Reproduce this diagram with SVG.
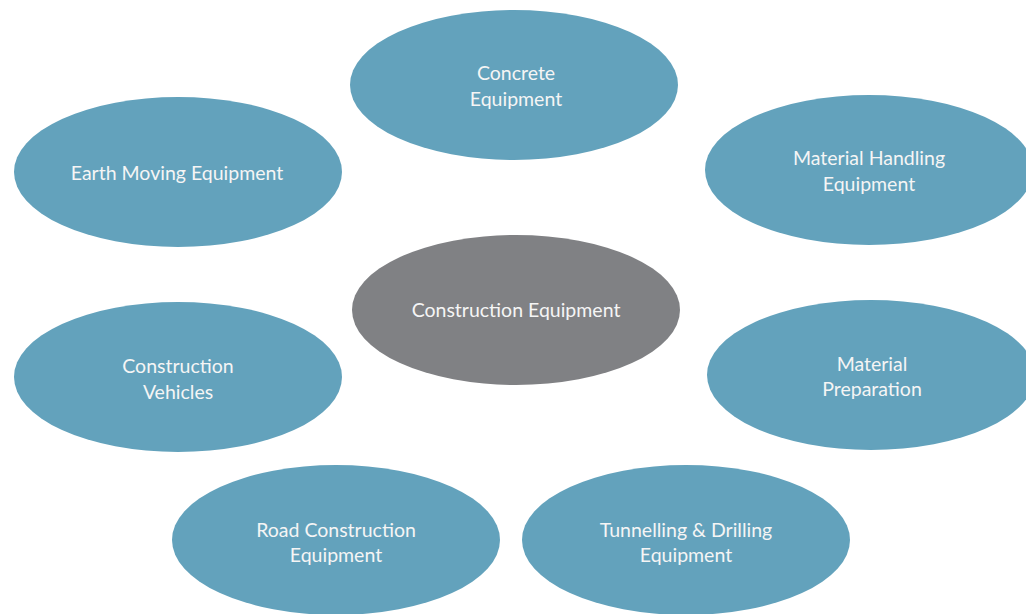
<svg xmlns="http://www.w3.org/2000/svg" width="1026" height="614" viewBox="0 0 1026 614">
<style>
.n{fill:#63a2bc}
.c{fill:#808184}
text{font-family:Lato,"Open Sans","Liberation Sans",sans-serif;font-size:19.5px;fill:#f5f5f5;text-anchor:middle}
</style>
<rect width="1026" height="614" fill="#ffffff"/>
<g id="connectors"></g>
<g id="concrete"><ellipse class="n" cx="514" cy="85" rx="164" ry="75"/><text x="516" y="80">Concrete</text><text x="516" y="106">Equipment</text></g>
<g id="earth"><ellipse class="n" cx="178" cy="172" rx="164" ry="75"/><text x="177" y="180">Earth Moving Equipment</text></g>
<g id="handling"><ellipse class="n" cx="869" cy="170" rx="164" ry="75"/><text x="869" y="165">Material Handling</text><text x="869" y="191">Equipment</text></g>
<g id="center"><ellipse class="c" cx="516" cy="310" rx="164" ry="75"/><text x="516" y="317">Construction Equipment</text></g>
<g id="vehicles"><ellipse class="n" cx="178" cy="377" rx="164" ry="75"/><text x="178" y="373">Construction</text><text x="178" y="399">Vehicles</text></g>
<g id="preparation"><ellipse class="n" cx="871" cy="375" rx="164" ry="75"/><text x="872" y="371">Material</text><text x="872" y="396">Preparation</text></g>
<g id="road"><ellipse class="n" cx="336" cy="540" rx="164" ry="75"/><text x="336" y="537">Road Construction</text><text x="336" y="562">Equipment</text></g>
<g id="tunnel"><ellipse class="n" cx="686" cy="540" rx="164" ry="75"/><text x="686" y="537">Tunnelling &amp; Drilling</text><text x="686" y="562">Equipment</text></g>
</svg>
